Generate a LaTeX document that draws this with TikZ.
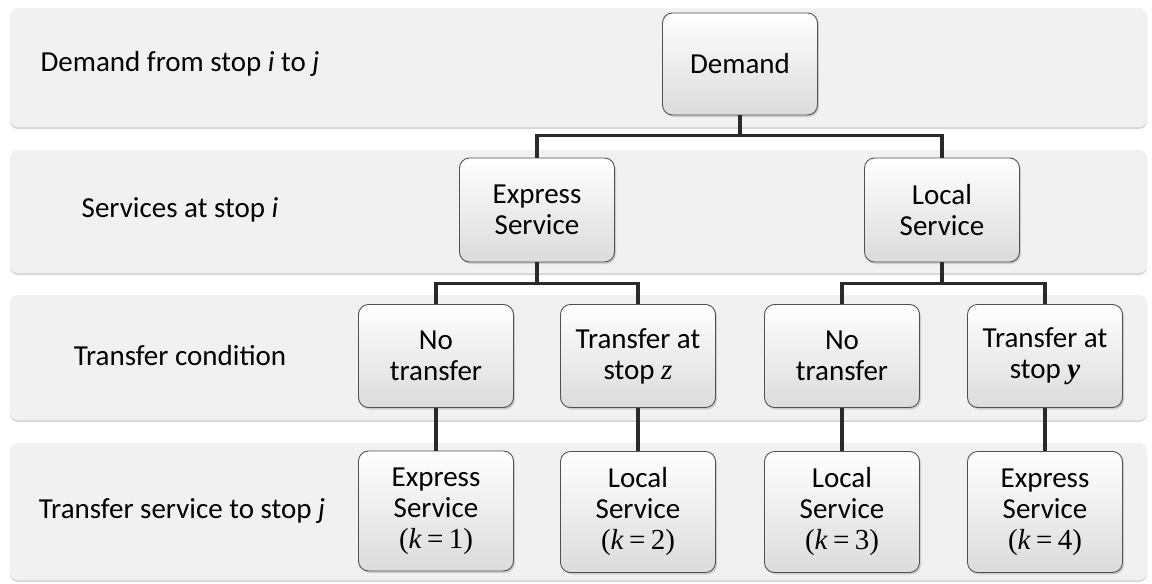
\documentclass[tikz,border=0pt]{standalone}
\usepackage{fontspec}
\setmainfont{Carlito}
\newfontfamily\serifmath{Liberation Serif}
\usetikzlibrary{shadows}

\definecolor{bandfill}{HTML}{F1F1F1}
\definecolor{boxline}{HTML}{505050}
\definecolor{wirecol}{HTML}{2A2A2A}

\newcommand{\kval}[1]{{\serifmath(\textit{k}\hspace{0.18em}=\hspace{0.18em}#1)}}

\begin{document}
\begin{tikzpicture}[x=1pt,y=-1pt,
  band/.style={fill=bandfill, rounded corners=8pt,
    drop shadow={shadow xshift=0pt, shadow yshift=-2pt, opacity=0.35, fill=black!45}},
  box/.style={draw=boxline, line width=0.9pt, rounded corners=10pt,
    top color=white, bottom color=black!14, inner sep=0pt, align=center,
    minimum width=155pt, font=\fontsize{29}{31}\selectfont,
    drop shadow={shadow xshift=1.5pt, shadow yshift=-2pt, opacity=0.3}},
  rowlabel/.style={font=\fontsize{29}{31}\selectfont, inner sep=0pt, anchor=center},
  wire/.style={draw=wirecol, line width=3.6pt}]

\useasboundingbox (0,0) rectangle (1152,584);

% horizontal bands, one per level
\path[band] (10,8)   rectangle (1147,127);
\path[band] (10,150) rectangle (1147,273);
\path[band] (10,295) rectangle (1147,420);
\path[band] (10,443) rectangle (1147,580);

% level captions
\node[rowlabel] (lab1) at (180,64)  {Demand from stop \textit{i} to \textit{j}};
\node[rowlabel] (lab2) at (180,210) {Services at stop \textit{i}};
\node[rowlabel] (lab3) at (180,356) {Transfer condition};
\node[rowlabel] (lab4) at (182,511) {Transfer service to stop \textit{j}};

% tree nodes
\node[box, minimum height=102pt] (dem) at (740,64) {Demand};

\node[box, minimum height=104pt] (exp) at (537,210) {Express\\Service};
\node[box, minimum height=104pt] (loc) at (942,210) {Local\\Service};

\node[box, minimum height=103pt] (nt1) at (436,356) {No\\transfer};
\node[box, minimum height=103pt] (tz)  at (638,356) {Transfer at\\stop {\serifmath\itshape z}};
\node[box, minimum height=103pt] (nt2) at (842,356) {No\\transfer};
\node[box, minimum height=103pt] (ty)  at (1045,356) {Transfer at\\stop {\serifmath\bfseries\itshape y}};

\node[box, minimum height=120pt] (e1) at (436,511)  {Express\\Service\\\kval{1}};
\node[box, minimum height=121pt] (l2) at (638,512)  {Local\\Service\\\kval{2}};
\node[box, minimum height=121pt] (l3) at (842,512)  {Local\\Service\\\kval{3}};
\node[box, minimum height=121pt] (e4) at (1045,512) {Express\\Service\\\kval{4}};

% connectors
\draw[wire] (dem.south) -- ++(0,20) -| (exp.north);
\draw[wire] (dem.south) -- ++(0,20) -| (loc.north);
\draw[wire] (exp.south) -- ++(0,21) -| (nt1.north);
\draw[wire] (exp.south) -- ++(0,21) -| (tz.north);
\draw[wire] (loc.south) -- ++(0,21) -| (nt2.north);
\draw[wire] (loc.south) -- ++(0,21) -| (ty.north);
\draw[wire] (nt1.south) -- (e1.north);
\draw[wire] (tz.south)  -- (l2.north);
\draw[wire] (nt2.south) -- (l3.north);
\draw[wire] (ty.south)  -- (e4.north);
\end{tikzpicture}
\end{document}
